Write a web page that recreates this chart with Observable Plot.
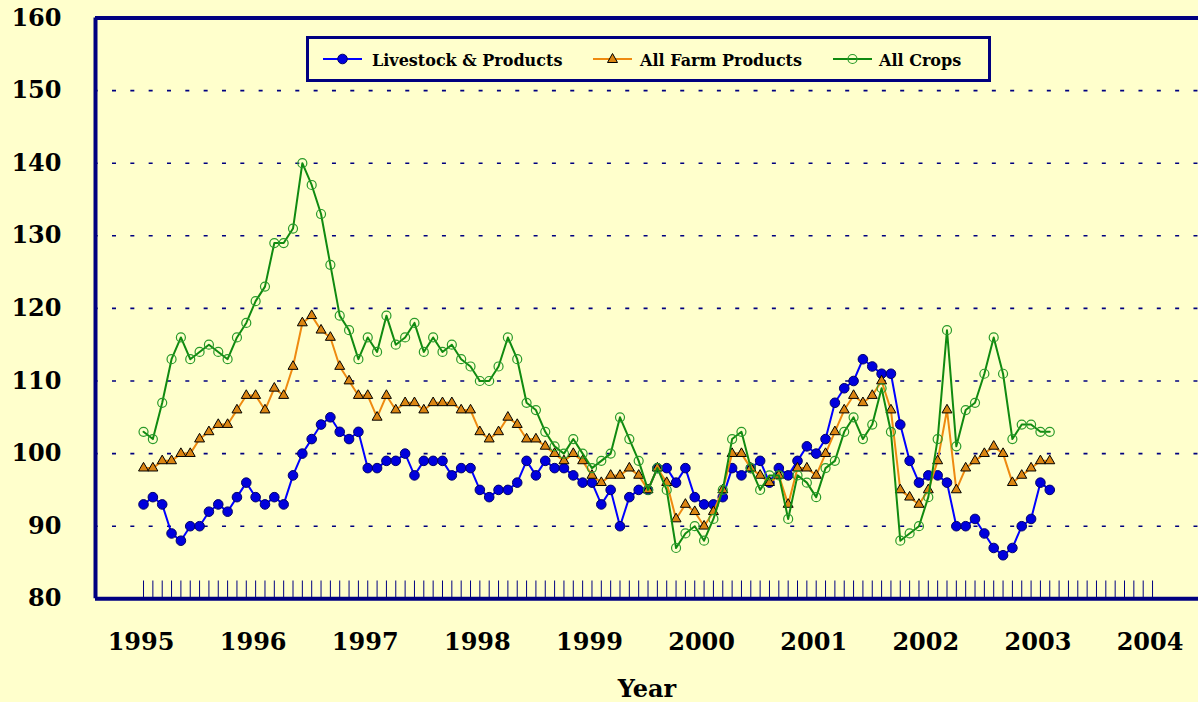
<!DOCTYPE html>
<html>
<head>
<meta charset="utf-8">
<script src="https://cdn.jsdelivr.net/npm/d3@7"></script>
<script src="https://cdn.jsdelivr.net/npm/@observablehq/plot@0.6"></script>
<style>
  html, body { margin: 0; padding: 0; background: #FFFFCC; }
  #wrap { position: relative; width: 1198px; height: 702px; overflow: hidden; background: #FFFFCC; }
  #legend { position: absolute; left: 0; top: 0; pointer-events: none; }
</style>
</head>
<body>
<div id="wrap"></div>
<script>
// ---- Data (monthly, Jan 1995 .. Feb 2003) ----
const yearLabels = ["1995","1996","1997","1998","1999","2000","2001","2002","2003","2004"];
const seriesNames = ["Livestock & Products", "All Farm Products", "All Crops"];

const livestock = [
  93,94,93,89,88,90,90,92,93,92,94,96,
  94,93,94,93,97,100,102,104,105,103,102,103,
  98,98,99,99,100,97,99,99,99,97,98,98,
  95,94,95,95,96,99,97,99,98,98,97,96,
  96,93,95,90,94,95,95,98,98,96,98,94,
  93,93,94,98,97,98,99,96,98,97,99,101,
  100,102,107,109,110,113,112,111,111,104,99,96,
  97,97,96,90,90,91,89,87,86,87,90,91,
  96,95
];
const allFarm = [
  98,98,99,99,100,100,102,103,104,104,106,108,
  108,106,109,108,112,118,119,117,116,112,110,108,
  108,105,108,106,107,107,106,107,107,107,106,106,
  103,102,103,105,104,102,102,101,100,99,100,99,
  97,96,97,97,98,97,95,98,96,91,93,92,
  90,92,95,100,100,98,97,96,97,93,98,98,
  97,100,103,106,108,107,108,110,106,95,94,93,
  95,99,106,95,98,99,100,101,100,96,97,98,
  99,99
];
const allCrops = [
  103,102,107,113,116,113,114,115,114,113,116,118,
  121,123,129,129,131,140,137,133,126,119,117,113,
  116,114,119,115,116,118,114,116,114,115,113,112,
  110,110,112,116,113,107,106,103,101,100,102,100,
  98,99,100,105,102,99,95,98,95,87,89,90,
  88,91,95,102,103,98,95,97,97,91,97,96,
  94,98,99,103,105,102,104,109,103,88,89,90,
  94,102,117,101,106,107,111,116,111,102,104,104,
  103,103
];

const months = d3.range(livestock.length);          // month index, 0 = Jan 1995
const tickMonths = d3.range(0, 109);                // Jan 1995 .. Jan 2004
const yearTicks = d3.range(0, 109, 12);
const yTicks = d3.range(80, 161, 10);
const gridValues = d3.range(90, 151, 10);

const navy = "#000080";
const xStart = -5.14, xEnd = 112.92;
const font = "DejaVu Serif";

const table = months.map(i => ({i, livestock: livestock[i], allFarm: allFarm[i], allCrops: allCrops[i]}));

const chart = Plot.plot({
  width: 1198,
  height: 702,
  marginLeft: 95,
  marginRight: 0,
  marginTop: 17.5,
  marginBottom: 103.7,
  x: {domain: [xStart, xEnd], axis: null},
  y: {domain: [80, 160], axis: null},
  style: {background: "transparent", fontFamily: font, fontWeight: "bold", fontSize: "24px", color: "black", overflow: "visible"},
  marks: [
    // dashed horizontal gridlines
    Plot.ruleY(gridValues, {y: d => d, stroke: navy, strokeWidth: 1.6, strokeDasharray: "4,14.33", strokeDashoffset: -17}),
    // monthly tick marks along bottom
    Plot.ruleX(tickMonths, {x: d => d, y1: 80, y2: 82.45, stroke: navy, strokeWidth: 1}),
    // Livestock & Products
    Plot.line(table, {x: "i", y: "livestock", stroke: "#0000FF", strokeWidth: 2}),
    Plot.dot(table, {x: "i", y: "livestock", r: 4.8, fill: "#0000DD", stroke: "#00006A", strokeWidth: 1}),
    // All Farm Products
    Plot.line(table, {x: "i", y: "allFarm", stroke: "#EE8A10", strokeWidth: 2}),
    Plot.dot(table, {x: "i", y: "allFarm", symbol: "triangle", r: 3.7, fill: "#DB8512", stroke: "#000000", strokeWidth: 1}),
    // All Crops
    Plot.line(table, {x: "i", y: "allCrops", stroke: "#108A10", strokeWidth: 2}),
    Plot.dot(table, {x: "i", y: "allCrops", r: 4.5, fill: "none", stroke: "#2A9A2A", strokeWidth: 1.2}),
    // plot border (top, bottom, left)
    Plot.ruleY([80, 160], {y: d => d, stroke: navy, strokeWidth: 4}),
    Plot.ruleX([xStart], {x: d => d, stroke: navy, strokeWidth: 4}),
    // y tick labels
    Plot.text(yTicks, {x: xStart, y: d => d, text: d => String(d), dx: -34, textAnchor: "end",
      fontSize: 24, fontWeight: "bold", fontFamily: font, fill: "black"}),
    // year labels
    Plot.text(yearTicks, {x: d => d, y: 80, text: d => yearLabels[d / 12], lineAnchor: "top", dy: 34, dx: -2.5,
      fontSize: 24, fontWeight: "bold", fontFamily: font, fill: "black"}),
    // axis title
    Plot.text(["Year"], {frameAnchor: "bottom", text: d => d, lineAnchor: "top", dy: 81,
      fontSize: 24, fontWeight: "bold", fontFamily: font, fill: "black"})
  ]
});

const wrap = document.getElementById("wrap");
wrap.appendChild(chart);

// ---- Legend overlay ----
const ns = "http://www.w3.org/2000/svg";
const lg = document.createElementNS(ns, "svg");
lg.setAttribute("id", "legend");
lg.setAttribute("width", 1198);
lg.setAttribute("height", 702);
function el(tag, attrs, parent) {
  const e = document.createElementNS(ns, tag);
  for (const k in attrs) e.setAttribute(k, attrs[k]);
  parent.appendChild(e);
  return e;
}
el("rect", {x: 307.5, y: 37.5, width: 682, height: 43, fill: "#FFFFCC", stroke: navy, "stroke-width": 3}, lg);
const items = [
  {name: seriesNames[0], x0: 323, color: "#0000FF", tx: 372, kind: "dot"},
  {name: seriesNames[1], x0: 593, color: "#EE8A10", tx: 640, kind: "tri"},
  {name: seriesNames[2], x0: 833, color: "#108A10", tx: 879, kind: "ring"}
];
const ly = 59;
for (const it of items) {
  el("line", {x1: it.x0, x2: it.x0 + 39, y1: ly, y2: ly, stroke: it.color, "stroke-width": 2}, lg);
  const cx = it.x0 + 19.5;
  if (it.kind === "dot") el("circle", {cx, cy: ly, r: 4.8, fill: "#0000DD", stroke: "#00006A"}, lg);
  if (it.kind === "tri") el("path", {d: `M${cx},${ly - 5.5}L${cx + 5},${ly + 3.5}L${cx - 5},${ly + 3.5}Z`, fill: "#DB8512", stroke: "#000"}, lg);
  if (it.kind === "ring") el("circle", {cx, cy: ly, r: 4.5, fill: "none", stroke: "#2A9A2A", "stroke-width": 1.2}, lg);
  const t = el("text", {x: it.tx, y: ly + 6.5, "font-family": font, "font-weight": "bold", "font-size": 16, fill: "black"}, lg);
  t.textContent = it.name;
}
wrap.appendChild(lg);
</script>
</body>
</html>
